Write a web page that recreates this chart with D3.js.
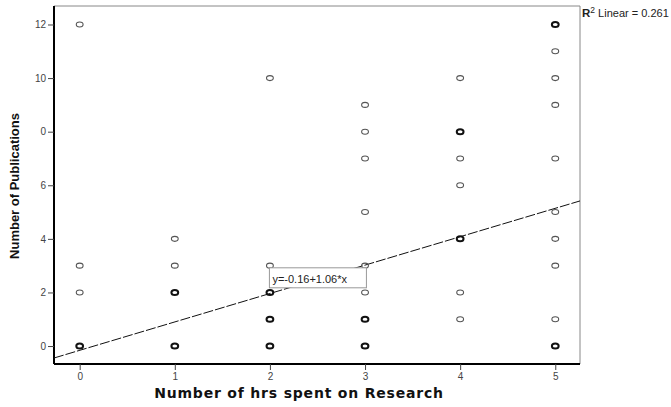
<html>
<head>
  <meta charset="utf8">
  <title>Publications vs Research hours</title>
  <style>
  * { margin: 0; padding: 0; }
  body { background: #fff; }
  </style>
</head>
<body>
  <script src="https://cdn.jsdelivr.net/npm/d3@7"></script>
  <script>
  var w = 671;
  var h = 407;

  // hours spent on research (x) and publications (y); heavy = several cases on one spot
  var hours   = [0, 0, 0, 0, 1, 1, 1, 1, 2, 2, 2, 2, 2, 3, 3, 3, 3, 3, 3, 3, 3, 4, 4, 4, 4, 4, 4, 4, 5, 5, 5, 5, 5, 5, 5, 5, 5, 5];
  var pubs    = [12, 3, 2, 0, 4, 3, 2, 0, 10, 3, 2, 1, 0, 9, 8, 7, 5, 3, 2, 1, 0, 10, 8, 7, 6, 4, 2, 1, 12, 11, 10, 9, 7, 5, 4, 3, 1, 0];
  var heavy   = [0, 0, 0, 1, 0, 0, 1, 1, 0, 0, 1, 1, 1, 0, 0, 0, 0, 0, 0, 1, 1, 0, 1, 0, 0, 1, 0, 0, 1, 0, 0, 0, 0, 0, 0, 0, 0, 1];

  var xTicks = [0, 1, 2, 3, 4, 5];
  var yTicks = [0, 2, 4, 6, 8, 10, 12];
  var yTickLabels = ["0", "2", "4", "6", "0", "10", "12"];

  var intercept = -0.16;
  var slope = 1.06;
  var eqText = "y=-0.16+1.06*x";
  var r2Text = "0.261";

  var pLeft = 54, pRight = 580, pTop = 6, pBottom = 364;

  var xScale = d3.scaleLinear().domain([-0.27, 5.26]).range([pLeft, pRight]);
  var yScale = d3.scaleLinear().domain([-0.67, 12.69]).range([pBottom, pTop]);

  var svg = d3.select("body")
    .append("svg")
    .attr("width", w)
    .attr("height", h);

  // frame: thin grey top/right
  svg.append("path")
    .attr("d", "M" + pLeft + "," + pTop + "H" + pRight + "V" + pBottom)
    .attr("fill", "none")
    .attr("stroke", "#888")
    .attr("stroke-width", 1);

  // axes
  var xAxis = svg.append("g")
    .attr("transform", "translate(0," + pBottom + ")")
    .call(d3.axisBottom(xScale).tickValues(xTicks).tickSize(6).tickPadding(3)
      .tickFormat(d3.format("d")));
  var yAxis = svg.append("g")
    .attr("transform", "translate(" + pLeft + ",0)")
    .call(d3.axisLeft(yScale).tickValues(yTicks).tickSize(6).tickPadding(2)
      .tickFormat(function(d, i) { return yTickLabels[i]; }));

  [xAxis, yAxis].forEach(function(g) {
    g.select(".domain").attr("stroke", "#000").attr("stroke-width", 2);
    g.selectAll(".tick line").attr("stroke", "#444").attr("stroke-width", 1);
    g.selectAll(".tick text")
      .attr("fill", "#444")
      .attr("font-family", "Liberation Sans, Arial, sans-serif")
      .attr("font-size", "10px");
  });
  xAxis.select(".domain").attr("d", "M" + pLeft + ",0H" + pRight);
  yAxis.select(".domain").attr("d", "M0," + pTop + "V" + pBottom);

  // regression line
  var x0 = xScale.domain()[0], x1 = xScale.domain()[1];
  svg.append("line")
    .attr("x1", xScale(x0))
    .attr("y1", yScale(intercept + slope * x0))
    .attr("x2", xScale(x1))
    .attr("y2", yScale(intercept + slope * x1))
    .attr("stroke", "#111")
    .attr("stroke-width", 1)
    .attr("stroke-dasharray", "10,2");

  // points
  svg.selectAll("ellipse")
    .data(hours)
    .enter()
    .append("ellipse")
    .attr("cx", function(d) { return xScale(d); })
    .attr("cy", function(d, i) { return yScale(pubs[i]); })
    .attr("rx", 3.4)
    .attr("ry", 2.5)
    .attr("fill", "none")
    .attr("stroke", function(d, i) { return heavy[i] ? "#111" : "#555"; })
    .attr("stroke-width", function(d, i) { return heavy[i] ? 2 : 1.1; });

  // equation label
  var bx = xScale(2) - 0.5, by = yScale(2.92);
  svg.append("rect")
    .attr("x", bx)
    .attr("y", by)
    .attr("width", 97)
    .attr("height", 20)
    .attr("fill", "#fff")
    .attr("stroke", "#999")
    .attr("stroke-width", 1);
  svg.append("text")
    .attr("x", bx + 3)
    .attr("y", by + 15)
    .attr("font-family", "Liberation Sans, Arial, sans-serif")
    .attr("font-size", "11px")
    .attr("fill", "#222")
    .text(eqText);

  // R2 label
  var r2 = svg.append("text")
    .attr("x", pRight + 2)
    .attr("y", 17)
    .attr("font-family", "Liberation Sans, Arial, sans-serif")
    .attr("font-size", "11px")
    .attr("fill", "#222");
  r2.append("tspan").attr("font-weight", "bold").attr("font-size", "11.5px").text("R");
  r2.append("tspan").attr("dy", -4).attr("font-size", "8.5px").text("2");
  r2.append("tspan").attr("dy", 4).text(" Linear = " + r2Text);

  // axis titles
  svg.append("text")
    .attr("x", (pLeft + pRight) / 2 - 18)
    .attr("y", 398)
    .attr("text-anchor", "middle")
    .attr("font-family", "DejaVu Sans, Verdana, sans-serif")
    .attr("font-weight", "bold")
    .attr("font-size", "14px")
    .attr("letter-spacing", "0.8px")
    .attr("fill", "#111")
    .text("Number of hrs spent on Research");

  svg.append("text")
    .attr("transform", "translate(19,186) rotate(-90)")
    .attr("text-anchor", "middle")
    .attr("font-family", "Liberation Sans, Arial, sans-serif")
    .attr("font-weight", "bold")
    .attr("font-size", "13px")
    .attr("fill", "#111")
    .text("Number of Publications");
  </script>
</body>
</html>
